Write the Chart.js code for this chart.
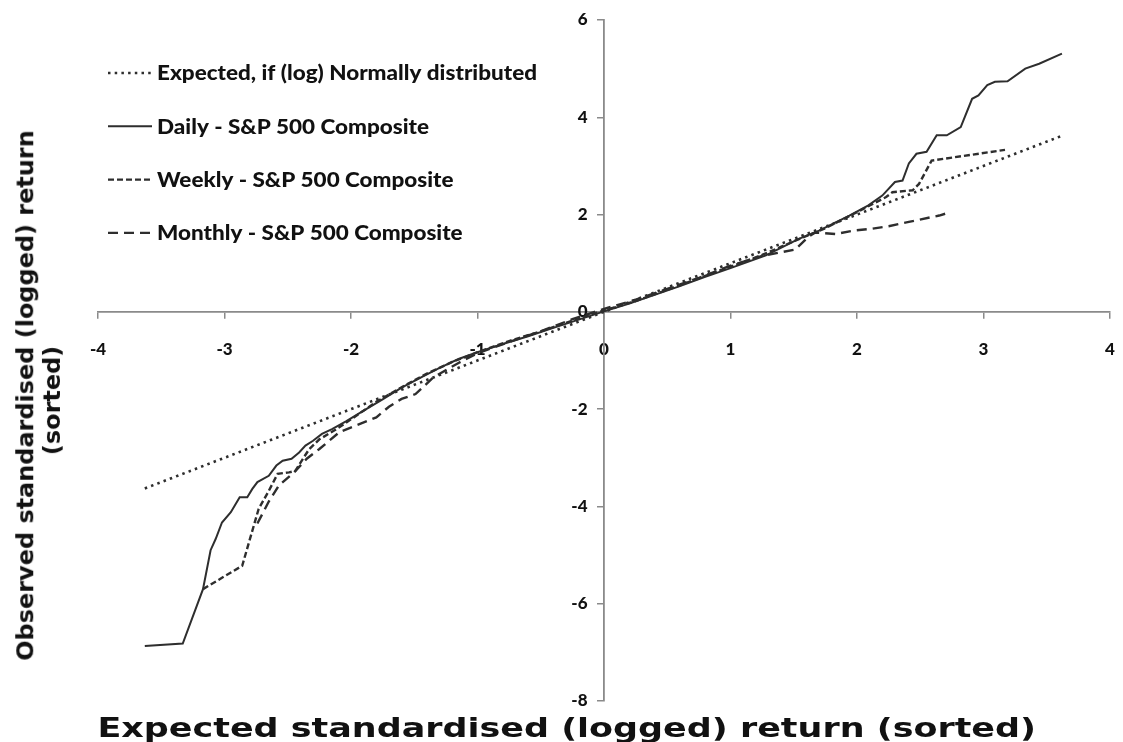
<!DOCTYPE html>
<html><head><meta charset="utf-8">
<script src="https://cdn.jsdelivr.net/npm/chart.js@4.4.1/dist/chart.umd.min.js"></script>
<style>
html,body{margin:0;padding:0;background:#fff;}
#wrap{position:relative;width:1123px;height:742px;overflow:hidden;background:#fff;}
#c{position:absolute;left:0;top:0;}
.t{position:absolute;white-space:nowrap;font-family:'DejaVu Sans',sans-serif;font-weight:bold;color:#111;line-height:1;transform-origin:center center;}
</style></head><body>
<div id="wrap"><canvas id="c" width="1123" height="742" style="width:1123px;height:742px"></canvas>
<div class="t" id="xt" style="font-size:27px">Expected standardised (logged) return (sorted)</div>
<div class="t" id="yt1" style="font-size:23px">Observed standardised (logged) return</div>
<div class="t" id="yt2" style="font-size:23px">(sorted)</div>
</div>
<script>
// ---- data ----
const seriesLabels = [
  'Expected, if (log) Normally distributed',
  'Daily - S&P 500 Composite',
  'Weekly - S&P 500 Composite',
  'Monthly - S&P 500 Composite'
];
const expectedX = [-3.63, 3.63];
const expectedY = [-3.63, 3.63];

const dailyX = [-3.63,-3.33,-3.17,-3.11,-3.07,-3.02,-2.95,-2.88,-2.82,-2.78,-2.74,-2.65,-2.59,-2.54,-2.47,-2.41,-2.36,-2.30,-2.23,-2.15,-2.04,-1.90,-1.75,-1.60,-1.45,-1.30,-1.15,-1.00,-0.80,-0.60,-0.40,-0.20,0.00,0.20,0.40,0.60,0.80,1.00,1.28,1.54,1.70,1.94,2.09,2.20,2.30,2.36,2.41,2.47,2.55,2.63,2.71,2.82,2.91,2.96,3.03,3.09,3.19,3.33,3.44,3.62];
const dailyY = [-6.87,-6.82,-5.70,-4.90,-4.67,-4.33,-4.12,-3.81,-3.81,-3.64,-3.50,-3.37,-3.16,-3.06,-3.02,-2.89,-2.75,-2.65,-2.51,-2.41,-2.25,-2.03,-1.80,-1.56,-1.35,-1.15,-0.97,-0.83,-0.66,-0.50,-0.33,-0.16,0.01,0.17,0.35,0.53,0.72,0.90,1.16,1.50,1.67,1.98,2.19,2.39,2.67,2.70,3.05,3.25,3.29,3.63,3.63,3.80,4.38,4.45,4.66,4.73,4.74,5.00,5.10,5.31];

const weeklyX = [-3.17,-2.86,-2.73,-2.65,-2.58,-2.49,-2.44,-2.38,-2.33,-2.25,-2.12,-1.95,-1.80,-1.60,-1.40,-1.20,-1.00,-0.75,-0.50,-0.25,0.00,0.25,0.50,0.75,1.00,1.25,1.50,1.75,2.00,2.23,2.28,2.44,2.49,2.59,3.17];
const weeklyY = [-5.70,-5.22,-4.05,-3.68,-3.33,-3.30,-3.27,-3.02,-2.82,-2.62,-2.42,-2.12,-1.85,-1.55,-1.27,-1.03,-0.83,-0.60,-0.40,-0.18,0.03,0.22,0.45,0.69,0.93,1.17,1.45,1.72,2.05,2.36,2.46,2.50,2.63,3.11,3.33];

const monthlyX = [-2.74,-2.65,-2.57,-2.45,-2.35,-2.25,-2.09,-1.80,-1.70,-1.60,-1.49,-1.35,-1.15,-1.00,-0.75,-0.50,-0.25,0.00,0.25,0.50,0.75,1.00,1.25,1.51,1.62,1.67,1.83,1.97,2.12,2.25,2.41,2.65,2.74];
const monthlyY = [-4.35,-3.90,-3.57,-3.30,-3.02,-2.82,-2.47,-2.17,-1.95,-1.79,-1.69,-1.35,-1.05,-0.85,-0.62,-0.40,-0.15,0.06,0.25,0.47,0.70,0.95,1.15,1.28,1.55,1.63,1.60,1.67,1.71,1.76,1.85,1.98,2.05];

const xTickValues = [-4,-3,-2,-1,0,1,2,3,4];
const yTickValues = [-8,-6,-4,-2,0,2,4,6];

// ---- build ----
const pts = (xs, ys) => xs.map((x, i) => ({x, y: ys[i]}));
const lineCol = '#2e2e2e';
const axisCol = '#8a8a8a';
const tickFont = {family: 'Lato, sans-serif', weight: '900', size: 17};

const legendPlugin = {
  id: 'qqLegend',
  afterDraw(chart) {
    const {ctx, chartArea} = chart;
    ctx.save();
    ctx.font = '900 20px Lato, sans-serif';
    ctx.textBaseline = 'middle';
    ctx.fillStyle = '#111';
    const k = 380 / ctx.measureText(chart.data.datasets[0].label).width;
    chart.data.datasets.forEach((ds, i) => {
      const y = chartArea.top + 53 + i * 53.3;
      ctx.beginPath();
      ctx.setLineDash(ds.borderDash || []);
      ctx.lineWidth = ds.borderWidth;
      ctx.strokeStyle = ds.borderColor;
      ctx.moveTo(chartArea.left + 10, y);
      ctx.lineTo(chartArea.left + 54, y);
      ctx.stroke();
      ctx.setLineDash([]);
      ctx.save();
      ctx.translate(chartArea.left + 59, y + 1);
      ctx.scale(k, 1);
      ctx.fillText(ds.label, 0, 0);
      ctx.restore();
    });
    ctx.restore();
  }
};

const chart = new Chart(document.getElementById('c'), {
  type: 'scatter',
  data: {
    datasets: [
      {label: seriesLabels[0], data: pts(expectedX, expectedY), borderDash: [2.5, 4.2], borderWidth: 2.6},
      {label: seriesLabels[1], data: pts(dailyX, dailyY), borderDash: [], borderWidth: 2},
      {label: seriesLabels[2], data: pts(weeklyX, weeklyY), borderDash: [6, 3], borderWidth: 2.4},
      {label: seriesLabels[3], data: pts(monthlyX, monthlyY), borderDash: [10, 6], borderWidth: 2.4}
    ].map(d => Object.assign({showLine: true, pointRadius: 0, pointHoverRadius: 0, borderColor: lineCol, backgroundColor: lineCol, tension: 0, fill: false}, d))
  },
  options: {
    responsive: false,
    animation: false,
    devicePixelRatio: 1,
    layout: {padding: {left: 98, right: 13, top: 20, bottom: 41}},
    plugins: {legend: {display: false}, tooltip: {enabled: false}},
    scales: {
      x: {
        type: 'linear', position: {y: 0}, min: -4, max: 4,
        afterBuildTicks: s => { s.ticks = xTickValues.map(v => ({value: v})); },
        grid: {drawOnChartArea: false, drawTicks: true, tickLength: 6, color: axisCol, lineWidth: 1.5},
        border: {display: true, color: axisCol, width: 1.8},
        ticks: {display: false, padding: 0}
      },
      // label-only copy of the x axis, set just below the crossing axis
      xLabels: {
        type: 'linear', axis: 'x', position: {y: -0.57}, min: -4, max: 4,
        afterBuildTicks: s => { s.ticks = xTickValues.map(v => ({value: v})); },
        grid: {display: false, drawTicks: false},
        border: {display: false},
        ticks: {padding: 0, color: '#111', font: tickFont}
      },
      y: {
        type: 'linear', position: {x: 0}, min: -8, max: 6,
        afterBuildTicks: s => { s.ticks = yTickValues.map(v => ({value: v})); },
        grid: {drawOnChartArea: false, drawTicks: true, tickLength: 6, color: axisCol, lineWidth: 1.5},
        border: {display: true, color: axisCol, width: 1.8},
        ticks: {display: false}
      },
      // label-only copy of the y axis, set just left of the crossing axis so its labels clear the line
      yLabels: {
        type: 'linear', axis: 'y', position: {x: -0.13}, min: -8, max: 6,
        afterBuildTicks: s => { s.ticks = yTickValues.map(v => ({value: v})); },
        grid: {display: false, drawTicks: false},
        border: {display: false},
        ticks: {padding: 0, color: '#111', font: tickFont}
      }
    }
  },
  plugins: [legendPlugin]
});

// axis titles placed outside the plot, as in the reference
function place(id, cx, cy, s, rot) {
  const el = document.getElementById(id);
  const w = el.offsetWidth;
  el.style.left = cx + 'px';
  el.style.top = cy + 'px';
  el.style.marginLeft = (-w / 2) + 'px';
  el.style.marginTop = (-el.offsetHeight / 2) + 'px';
  el.style.transform = `rotate(${rot}deg) scaleX(${s})`;
}
const sx = 938 / document.getElementById('xt').offsetWidth;
const sy = 530 / document.getElementById('yt1').offsetWidth;
place('xt', 566, 727, sx, 0);
place('yt1', 25, 395, sy, -90);
place('yt2', 52, 400, sy, -90);
</script>
</body></html>
